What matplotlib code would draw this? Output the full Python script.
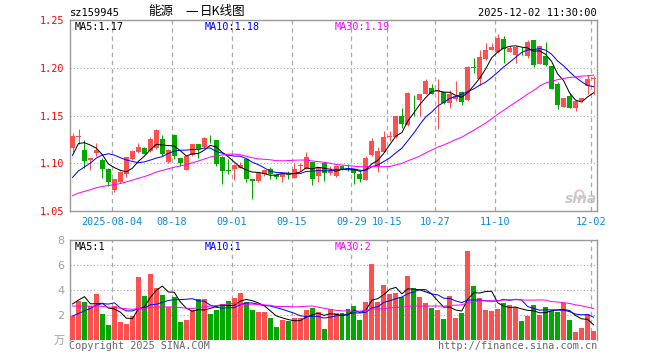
import numpy as np
import pandas as pd
import matplotlib
matplotlib.use("Agg")
import matplotlib.pyplot as plt

# trading days shown (National Day holiday 10-01..10-08 removed)
days = pd.bdate_range("2025-07-24", "2025-12-02")
days = days[(days < "2025-10-01") | (days > "2025-10-08")]

tick_days = ["2025-08-04", "2025-08-18", "2025-09-01", "2025-09-15", "2025-09-29",
             "2025-10-15", "2025-10-27", "2025-11-10", "2025-12-02"]
tick_text = ["2025-08-04", "08-18", "09-01", "09-15", "09-29",
             "10-15", "10-27", "11-10", "12-02"]

opens = [1.1155, 1.1280, 1.1135, 1.1035, 1.1110, 1.1030, 1.0940, 1.0715, 1.0805, 1.0890,
         1.1045, 1.1120, 1.1160, 1.1130, 1.1155, 1.1250, 1.1015, 1.1300, 1.1050, 1.0930,
         1.1085, 1.1200, 1.1165, 1.1255, 1.1240, 1.1070, 1.0925, 1.0940, 1.0955, 1.1040,
         1.0835, 1.0810, 1.0890, 1.0940, 1.0880, 1.0855, 1.0880, 1.0850, 1.0970, 1.0940,
         1.1010, 1.0870, 1.1000, 1.0895, 1.0870, 1.0970, 1.0950, 1.0940, 1.0890, 1.0825,
         1.1085, 1.0975, 1.1120, 1.1280, 1.1270, 1.1500, 1.1400, 1.1705, 1.1660, 1.1730,
         1.1790, 1.1755, 1.1745, 1.1630, 1.1670, 1.1750, 1.1660, 1.2000, 1.1880, 1.2090,
         1.2190, 1.2170, 1.2300, 1.2165, 1.2135, 1.2155, 1.2125, 1.2290, 1.2040, 1.2120,
         1.2015, 1.1830, 1.1590, 1.1700, 1.1580, 1.1650, 1.1810, 1.1880]
highs = [1.1315, 1.1360, 1.1245, 1.1060, 1.1210, 1.1050, 1.0950, 1.0840, 1.0920, 1.1065,
         1.1140, 1.1210, 1.1165, 1.1280, 1.1355, 1.1300, 1.1150, 1.1305, 1.1055, 1.1080,
         1.1205, 1.1205, 1.1280, 1.1300, 1.1245, 1.1075, 1.1040, 1.0995, 1.1010, 1.1045,
         1.0840, 1.0905, 1.0935, 1.0960, 1.0885, 1.0895, 1.0920, 1.1000, 1.1000, 1.1120,
         1.1015, 1.0965, 1.1005, 1.0975, 1.0975, 1.0980, 1.0990, 1.0945, 1.0920, 1.1075,
         1.1260, 1.1165, 1.1340, 1.1340, 1.1500, 1.1580, 1.1745, 1.1710, 1.1730, 1.1880,
         1.1825, 1.1880, 1.1750, 1.1770, 1.1860, 1.1755, 1.2015, 1.2100, 1.2190, 1.2260,
         1.2260, 1.2350, 1.2335, 1.2230, 1.2225, 1.2220, 1.2290, 1.2295, 1.2230, 1.2265,
         1.2020, 1.1855, 1.1685, 1.1735, 1.1650, 1.1685, 1.1925, 1.1910]
lows = [1.1120, 1.1200, 1.0950, 1.0930, 1.1075, 1.0845, 1.0765, 1.0695, 1.0790, 1.0860,
        1.1030, 1.1110, 1.1095, 1.1120, 1.1150, 1.1080, 1.1000, 1.1040, 1.0975, 1.0925,
        1.1080, 1.1060, 1.1160, 1.1210, 1.0970, 1.0780, 1.0890, 1.0820, 1.0950, 1.0800,
        1.0625, 1.0800, 1.0870, 1.0840, 1.0840, 1.0800, 1.0830, 1.0845, 1.0920, 1.0935,
        1.0770, 1.0800, 1.0810, 1.0880, 1.0860, 1.0925, 1.0920, 1.0780, 1.0800, 1.0820,
        1.1075, 1.0905, 1.1115, 1.1235, 1.1265, 1.1370, 1.1395, 1.1500, 1.1490, 1.1725,
        1.1725, 1.1355, 1.1620, 1.1580, 1.1650, 1.1610, 1.1655, 1.1940, 1.1820, 1.2085,
        1.2185, 1.2150, 1.2050, 1.2160, 1.2050, 1.2135, 1.2100, 1.2010, 1.2035, 1.2015,
        1.1780, 1.1570, 1.1585, 1.1580, 1.1545, 1.1645, 1.1730, 1.1720]
closes = [1.1285, 1.1290, 1.1020, 1.1055, 1.1135, 1.0945, 1.0805, 1.0830, 1.0910, 1.1065,
          1.1130, 1.1165, 1.1100, 1.1250, 1.1345, 1.1095, 1.1135, 1.1080, 1.1000, 1.1075,
          1.1200, 1.1150, 1.1260, 1.1250, 1.0990, 1.0920, 1.0920, 1.0985, 1.0985, 1.0840,
          1.0810, 1.0900, 1.0930, 1.0890, 1.0855, 1.0890, 1.0875, 1.0945, 1.0975, 1.1070,
          1.0840, 1.0960, 1.0895, 1.0920, 1.0970, 1.0930, 1.0945, 1.0900, 1.0835, 1.1060,
          1.1230, 1.1130, 1.1275, 1.1290, 1.1500, 1.1410, 1.1740, 1.1700, 1.1730, 1.1865,
          1.1730, 1.1770, 1.1630, 1.1720, 1.1700, 1.1640, 1.2010, 1.1995, 1.2110, 1.2190,
          1.2220, 1.2310, 1.2195, 1.2205, 1.2220, 1.2150, 1.2265, 1.2030, 1.2225, 1.2030,
          1.1780, 1.1615, 1.1680, 1.1580, 1.1650, 1.1680, 1.1880, 1.1895]
# volume in 万
volumes = [1.92, 3.15, 3.07, 2.72, 3.68, 2.08, 1.20, 2.72, 1.44, 1.28,
           1.92, 5.04, 3.52, 5.28, 4.13, 3.60, 2.67, 3.41, 1.44, 1.60,
           2.40, 3.28, 3.28, 2.08, 2.40, 2.88, 3.12, 3.36, 3.79, 3.07,
           2.40, 2.24, 2.24, 1.76, 1.04, 1.60, 1.55, 1.76, 1.76, 2.40,
           2.56, 2.24, 0.88, 2.45, 2.13, 2.13, 2.48, 2.72, 1.60, 3.07,
           6.08, 3.07, 4.40, 3.71, 3.79, 3.47, 5.12, 4.19, 3.47, 2.99,
           2.59, 2.40, 1.68, 3.52, 1.79, 2.19, 7.12, 4.32, 3.36, 2.40,
           2.32, 2.48, 2.99, 2.80, 2.61, 1.55, 1.92, 2.80, 2.00, 2.67,
           2.32, 2.27, 2.93, 1.60, 0.67, 0.99, 2.08, 0.75]

# sessions before the window, only needed so the moving averages start right
pre_close = [1.048, 1.050, 1.052, 1.051, 1.053, 1.055, 1.054, 1.056, 1.055, 1.057,
             1.058, 1.057, 1.059, 1.058, 1.060, 1.059, 1.061, 1.060, 1.062, 1.066,
             1.060, 1.062, 1.063, 1.061, 1.064, 1.067, 1.098, 1.118, 1.130]
pre_volume = [3.0, 3.4, 2.8, 3.3, 3.1, 2.9, 3.5, 3.2, 2.7, 3.3,
              3.0, 3.4, 2.9, 3.1, 3.2, 3.0, 3.3, 2.9, 3.2, 3.1,
              1.2, 0.9, 0.8, 1.0, 0.9, 1.6, 1.7, 5.6, 3.6]

RED = "#ff5050"
GREEN = "#00a800"
GRAY = "#999999"
MONO = "DejaVu Sans Mono"
CJK = ["Noto Sans CJK SC", "DejaVu Sans"]

n = len(closes)
skip = len(pre_close)
cs = pd.Series(pre_close + closes)
vs = pd.Series(pre_volume + volumes)
ma = {w: cs.rolling(w).mean().values[skip:] for w in (5, 10, 30)}
vma = {w: vs.rolling(w).mean().values[skip:] for w in (5, 10, 30)}

o = np.array(opens)
c = np.array(closes)
up = c >= o
cols = np.where(up, RED, GREEN)
xs = np.arange(n) + 0.42
tick_pos = [list(days.strftime("%Y-%m-%d")).index(d) for d in tick_days]


def fpx(x, y):
    return x / 660, 1 - y / 360


fig = plt.figure(figsize=(6.6, 3.6), dpi=100)
ax = fig.add_axes([70 / 660, 1 - 211 / 360, 527 / 660, 191 / 360])
axv = fig.add_axes([70 / 660, 1 - 340 / 360, 527 / 660, 100 / 360])

# candles
ax.vlines(xs, lows, highs, colors=cols, lw=0.75, zorder=3)
body = np.maximum(np.abs(c - o), 0.0009)
ax.bar(xs, body, bottom=np.minimum(o, c), width=0.83, color=cols, lw=0, zorder=3)
ax.plot(xs, ma[5], color="black", lw=0.72, zorder=4)
ax.plot(xs, ma[10], color="#0000ff", lw=0.72, zorder=4)
ax.plot(xs, ma[30], color="#ff00ff", lw=0.72, zorder=4)

# volume
axv.bar(xs, volumes, width=0.83, color=cols, lw=0, zorder=3)
axv.plot(xs, vma[5], color="black", lw=0.72, zorder=4)
axv.plot(xs, vma[10], color="#0000ff", lw=0.72, zorder=4)
axv.plot(xs, vma[30], color="#ff00ff", lw=0.72, zorder=4)

for a in (ax, axv):
    a.set_xlim(0, n)
    a.set_xticks(tick_pos)
    a.grid(axis="x", color="#aaaaaa", lw=0.9, linestyle=(0, (3.6, 2.9)), zorder=1)
    a.grid(axis="y", color="#aaaaaa", lw=0.8, linestyle=(0, (1, 2)), zorder=1)
    for s in a.spines.values():
        s.set_color(GRAY)
        s.set_linewidth(1.0)
    a.tick_params(length=0)

ax.set_ylim(1.05, 1.25)
yt = [1.05, 1.10, 1.15, 1.20, 1.25]
ax.set_yticks(yt)
ax.set_yticklabels(["%.2f" % v for v in yt], family=MONO, fontsize=7.3, color="#ff0000")
ax.set_xticklabels(tick_text, family=MONO, fontsize=7.3, color="#0a88d8")
ax.tick_params(axis="y", pad=3.8)
ax.tick_params(axis="x", pad=4.5)

axv.set_ylim(0, 8)
axv.set_yticks([0, 2, 4, 6, 8])
axv.set_yticklabels(["万", "2", "4", "6", "8"], family=["DejaVu Sans", "Noto Sans CJK SC"],
                    fontsize=8, color="#a0a0a0")
axv.tick_params(axis="y", pad=3.8)
axv.set_xticklabels([])
axv.spines["bottom"].set_visible(False)
axv.get_ygridlines()[0].set_visible(False)

# headers
fig.text(*fpx(70, 13), "sz159945", family=MONO, fontsize=7.5, va="center")
fig.text(*fpx(148, 12), "能源", family=CJK, fontsize=9, va="center")
fig.text(*fpx(185, 12), "一", family=CJK, fontsize=9, va="center")
fig.text(*fpx(200, 12), "日K线图", family=CJK, fontsize=9, va="center")
fig.text(*fpx(597, 13), "2025-12-02 11:30:00", family=MONO, fontsize=7.5,
         va="center", ha="right")

fig.text(*fpx(75, 26.5), "MA5:%.2f" % ma[5][-1], family=MONO, fontsize=7.3, va="center")
fig.text(*fpx(205, 26.5), "MA10:%.2f" % ma[10][-1], family=MONO, fontsize=7.3,
         va="center", color="#0000ff")
fig.text(*fpx(335, 26.5), "MA30:%.2f" % ma[30][-1], family=MONO, fontsize=7.3,
         va="center", color="#ff00ff")

fig.text(*fpx(75, 246.5), "MA5:%d" % int(vma[5][-1]), family=MONO, fontsize=7.3, va="center")
fig.text(*fpx(205, 246.5), "MA10:%d" % int(vma[10][-1]), family=MONO, fontsize=7.3,
         va="center", color="#0000ff")
fig.text(*fpx(335, 246.5), "MA30:%d" % int(vma[30][-1]), family=MONO, fontsize=7.3,
         va="center", color="#ff00ff")

fig.text(*fpx(69, 346), "Copyright 2025 SINA.COM", family=MONO, fontsize=7.3,
         va="center", color="#666666")
fig.text(*fpx(597, 346), "http://finance.sina.com.cn", family=MONO, fontsize=7.3,
         va="center", ha="right", color="#666666")

# sina watermark
fig.text(*fpx(597, 199), "sina", fontsize=10, fontweight="bold", style="italic",
         color="#c8c8c8", ha="right", va="center")
ax.plot([0.965], [0.09], transform=ax.transAxes, marker="o", ms=6, mfc="none",
        mec="#f2b8b8", mew=1.2, zorder=5)

fig.savefig("out.png", dpi=100)
